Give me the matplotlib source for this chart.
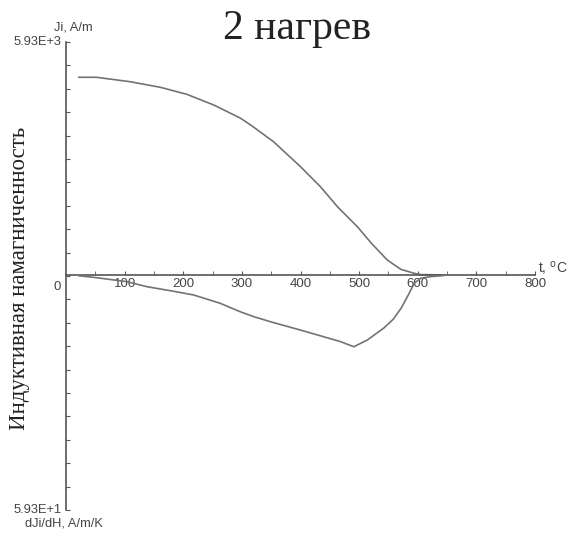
import numpy as np
import matplotlib
matplotlib.use("Agg")
import matplotlib.pyplot as plt

# Ji, A/m (upper curve)
T_JI = [22, 52, 109, 161, 206, 252, 297, 315, 354, 400, 434, 463, 497, 521,
        548, 571, 594, 605, 630, 650]
JI = [5032, 5032, 4920, 4777, 4599, 4327, 3996, 3818, 3393, 2757, 2247, 1738,
      1229, 807, 382, 145, 43, 10, 5, 0]

# dJi/dH, A/m/K (lower curve, drawn downwards)
T_DJ = [22, 47, 104, 138, 178, 218, 263, 297, 320, 349, 400, 440, 468, 491,
        514, 542, 558, 572, 584, 594, 605, 622, 640, 650]
DJ = [0.2, 0.58, 1.69, 2.95, 3.96, 5.05, 7.14, 9.26, 10.5, 11.8, 13.9, 15.6,
      16.8, 18.1, 16.4, 13.4, 11.2, 8.3, 5.0, 2.1, 0.83, 0.4, 0.2, 0.0]

JI_MAX = 5930
DJ_MAX = 59.3
X_TICKS = [100, 200, 300, 400, 500, 600, 700, 800]

W, H = 571, 535
fig = plt.figure(figsize=(W / 100, H / 100), dpi=100)
ax = fig.add_axes([66 / W, (H - 510) / H, 469 / W, 468 / H])

line_col = '#737373'
axis_col = '#555555'

# upper half holds Ji, lower half holds dJi/dH
up_px, down_px = 233, 235
ax.set_xlim(0, 800)
ax.set_ylim(-JI_MAX * down_px / up_px, JI_MAX)
ax.plot(T_JI, JI, color=line_col, lw=1.2)

ax2 = ax.twinx()
ax2.set_ylim(-DJ_MAX, DJ_MAX * up_px / down_px)
ax2.plot(T_DJ, -np.array(DJ), color=line_col, lw=1.2)
ax2.axis('off')

for s in ['top', 'right']:
    ax.spines[s].set_visible(False)
ax.spines['bottom'].set_position(('data', 0))
ax.spines['left'].set_color(axis_col)
ax.spines['bottom'].set_color(axis_col)
ax.spines['left'].set_linewidth(1.2)
ax.spines['bottom'].set_linewidth(1.2)

ax.set_yticks(np.linspace(-JI_MAX * down_px / up_px, JI_MAX, 21))
ax.set_yticklabels([])
ax.tick_params(axis='y', direction='in', length=3, color=axis_col)

ax.set_xticks(X_TICKS)
ax.set_xticklabels([str(v) for v in X_TICKS], fontsize=9.5,
                   fontfamily='Liberation Sans', color='#444444')
ax.set_xticks([50, 150, 250, 350, 450, 550, 650, 750], minor=True)
ax.tick_params(axis='x', which='both', direction='in', length=3,
               color=axis_col, pad=2)

small = dict(fontfamily='Liberation Sans', fontsize=9.3, color='#444444')
fig.text(62 / W, 1 - 42 / H, '5.93E+3', ha='right', va='center', **small)
fig.text(62 / W, 1 - 510 / H, '5.93E+1', ha='right', va='center', **small)
fig.text(57 / W, 1 - 287 / H, '0', ha='center', va='center',
         fontfamily='Liberation Sans', fontsize=9.5, color='#444444')
fig.text(54 / W, 1 - 27 / H, 'Ji, A/m', ha='left', va='center', **small)
fig.text(25 / W, 1 - 524 / H, 'dJi/dH, A/m/K', ha='left', va='center', **small)
fig.text(538 / W, 1 - 268 / H, r't, $^{\mathrm{o}}$C', ha='left', va='center',
         fontfamily='Liberation Sans', fontsize=10, color='#444444')

fig.text(297 / W, 1 - 39 / H, '2 нагрев', ha='center', va='baseline',
         fontfamily='Liberation Serif', fontsize=30, color='#222222')
fig.text(20 / W, 1 - 278 / H, 'Индуктивная намагниченность', rotation=90,
         ha='center', va='center', fontfamily='Liberation Serif',
         fontsize=16.5, color='#222222')

fig.savefig('out.png', dpi=100)
